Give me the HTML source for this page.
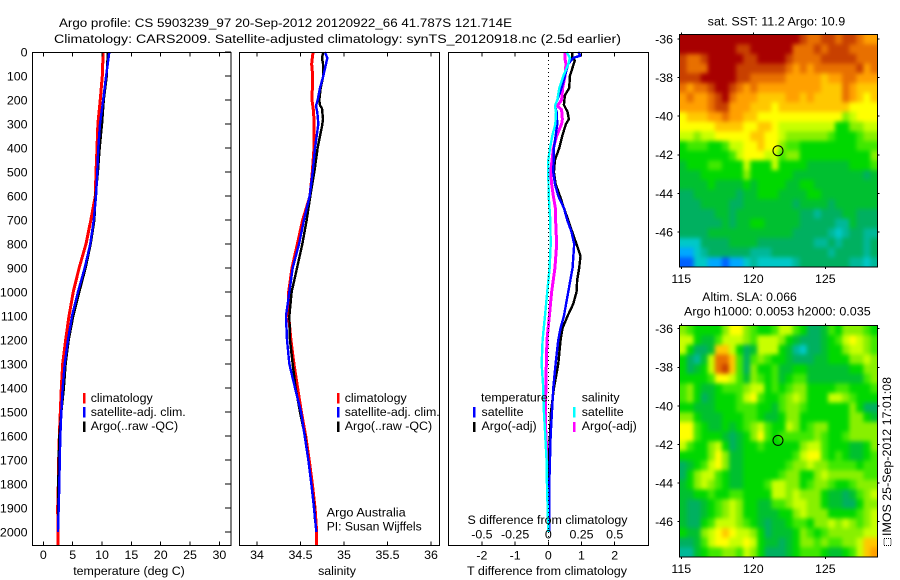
<!DOCTYPE html>
<html>
<head>
<meta charset="utf-8">
<title>Argo profile chart</title>
<style>
html,body{margin:0;padding:0;background:#fff;}
svg{display:block;}
text{font-family:"Liberation Sans",sans-serif;font-size:12.4px;fill:#000;}
</style>
</head>
<body>
<svg id="chart" xmlns="http://www.w3.org/2000/svg" width="900" height="580" viewBox="0 0 900 580">
  <defs>
    <filter id="cell-soften" x="0" y="0" width="100%" height="100%" color-interpolation-filters="sRGB">
      <feGaussianBlur stdDeviation="2.2"/>
      <feComponentTransfer><feFuncA type="discrete" tableValues="1"/></feComponentTransfer>
    </filter>
  </defs>
  <rect x="0" y="0" width="900" height="580" fill="#fff"/>
  <text x="59" y="27" textLength="453" lengthAdjust="spacingAndGlyphs">Argo profile: CS 5903239_97 20-Sep-2012 20120922_66 41.787S 121.714E</text>
  <text x="54" y="43" textLength="567" lengthAdjust="spacingAndGlyphs">Climatology: CARS2009. Satellite-adjusted climatology: synTS_20120918.nc (2.5d earlier)</text>

  <g id="series-layer"></g>
  <g id="map-layer"></g>
  <g id="axis-layer"></g>

  <text x="129" y="575" text-anchor="middle">temperature (deg C)</text>
  <text x="337" y="575" text-anchor="middle">salinity</text>
  <text x="467" y="575" textLength="160" lengthAdjust="spacingAndGlyphs">T difference from climatology</text>
  <text x="467.5" y="524" textLength="160" lengthAdjust="spacingAndGlyphs">S difference from climatology</text>

  <g>
    <rect x="83" y="393" width="2.5" height="10.5" fill="#f00"/>
    <text x="90.7" y="402">climatology</text>
    <rect x="83" y="407" width="2.5" height="10.5" fill="#00f"/>
    <text x="90.7" y="416">satellite-adj. clim.</text>
    <rect x="83" y="421.5" width="2.5" height="10.5" fill="#000"/>
    <text x="90.7" y="430">Argo(..raw -QC)</text>
  </g>
  <g>
    <rect x="337" y="393" width="2.5" height="10.5" fill="#f00"/>
    <text x="344.7" y="402">climatology</text>
    <rect x="337" y="407" width="2.5" height="10.5" fill="#00f"/>
    <text x="344.7" y="416">satellite-adj. clim.</text>
    <rect x="337" y="421.5" width="2.5" height="10.5" fill="#000"/>
    <text x="344.7" y="430">Argo(..raw -QC)</text>
  </g>
  <text x="326.7" y="516.5" textLength="79" lengthAdjust="spacingAndGlyphs">Argo Australia</text>
  <text x="326.7" y="530.5" textLength="95" lengthAdjust="spacingAndGlyphs">PI: Susan Wijffels</text>

  <g>
    <text x="481" y="401.7">temperature</text>
    <rect x="473" y="407" width="2.5" height="10.5" fill="#00f"/>
    <text x="481.5" y="416">satellite</text>
    <rect x="473" y="422" width="2.5" height="10" fill="#000"/>
    <text x="481.5" y="430">Argo(-adj)</text>
    <text x="581.7" y="401.7">salinity</text>
    <rect x="573" y="407" width="2.5" height="10.5" fill="#0ff"/>
    <text x="581.7" y="416">satellite</text>
    <rect x="573" y="422" width="2.5" height="10" fill="#f0f"/>
    <text x="581.7" y="430">Argo(-adj)</text>
  </g>

  <text x="707.7" y="25.7" textLength="137.5" lengthAdjust="spacingAndGlyphs">sat. SST: 11.2 Argo: 10.9</text>
  <text x="702.3" y="301" textLength="94.5" lengthAdjust="spacingAndGlyphs">Altim. SLA: 0.066</text>
  <text x="684" y="315.7" textLength="186.7" lengthAdjust="spacingAndGlyphs">Argo h1000: 0.0053 h2000: 0.035</text>

  <rect x="884" y="538.5" width="7" height="7" fill="none" stroke="#000" stroke-width="1" stroke-dasharray="1 1"/>
  <text transform="translate(891 536) rotate(-90)" textLength="159" lengthAdjust="spacingAndGlyphs">IMOS 25-Sep-2012 17:01:08</text>
</svg>

<script>
// ---- profile data ----
var depthGrid = [0,100,200,300,400,500,600,700,800,900,1000,1100,1200,1300,1400,1500,1600,1700,1800,1900,2000,2057];
var climTemp = [10.2,10.05,9.7,9.3,9.15,8.98,8.86,8.1,7.27,6.1,5.1,4.38,3.8,3.3,3.07,2.9,2.73,2.62,2.56,2.45,2.5,2.5];
var satTemp = [11.25,10.7,10.2,9.66,9.37,9.2,8.98,8.6,8.0,7.05,5.9,4.9,4.2,3.65,3.3,3.07,2.9,2.8,2.73,2.62,2.5];
var argoTemp = [11,10.8,10.3,10,9.6,9.3,8.9,8.7,8.07,7.2,6.13,5.1,4.32,3.8,3.5,3.07,2.73,2.62,2.56,2.5,2.5];

var climSalDepth = [0,50,100,200,250,300,400,500,600,700,800,900,1000,1100,1200,1300,1400,1500,1600,1700,1800,1900,2000,2057];
var climSal = [34.644,34.628,34.64,34.632,34.651,34.655,34.655,34.636,34.609,34.525,34.464,34.402,34.364,34.364,34.39,34.425,34.467,34.51,34.56,34.6,34.636,34.667,34.686,34.686];
var satSalDepth = [0,25,50,100,150,200,225,250,300,350,400,500,600,700,800,900,1000,1100,1200,1300,1400,1500,1600,1700,1800,1900,2000];
var satSal = [34.78,34.808,34.793,34.762,34.724,34.697,34.678,34.693,34.705,34.686,34.667,34.64,34.605,34.54,34.483,34.41,34.372,34.333,34.345,34.372,34.437,34.506,34.548,34.59,34.625,34.655,34.682];
var argoSalDepth = [0,25,50,100,150,200,222,235,280,310,350,400,500,600,700,800,900,1000,1100,1200,1300,1400,1500,1600,1700,1800,1900,1950];
var argoSal = [34.762,34.747,34.759,34.762,34.732,34.716,34.724,34.747,34.759,34.747,34.724,34.697,34.659,34.613,34.571,34.521,34.46,34.398,34.372,34.379,34.41,34.444,34.494,34.552,34.59,34.625,34.659,34.667];

var diffTSatDepth = [0,15,25,50,100,150,200,225,250,300,350,400,500,550,600,650,700,750,800,900,1000,1100,1150,1200,1300,1400,1500,1600,1700,1800,1900,2000];
var diffTSat = [0.90,0.97,0.75,0.60,0.50,0.40,0.27,0.20,0.25,0.27,0.22,0.17,0.15,0.20,0.30,0.47,0.57,0.70,0.78,0.73,0.60,0.47,0.37,0.30,0.22,0.15,0.11,0.07,0.05,0.03,0.03,0.03];
var diffTArgoDepth = [0,25,35,100,150,180,220,250,280,300,350,400,450,500,550,600,650,700,770,800,850,900,950,1000,1050,1100,1150,1200,1300,1400,1500,1600,1700,1800];
var diffTArgo = [0.72,0.72,0.80,0.65,0.63,0.50,0.47,0.58,0.62,0.53,0.42,0.33,0.20,0.17,0.22,0.35,0.47,0.60,0.77,0.85,0.97,0.93,0.87,0.85,0.75,0.58,0.43,0.37,0.30,0.17,0.08,0.05,0.02,0.01];
var diffSSatDepth = [0,25,50,100,150,200,225,250,300,350,400,450,500,600,700,800,900,1000,1100,1200,1300,1400,1500,1600,1700,1800,1900,2000];
var diffSSat = [0.138,0.163,0.151,0.113,0.083,0.068,0.05,0.058,0.053,0.03,0.013,0,0,0.003,0.015,0.018,0.01,-0.008,-0.025,-0.043,-0.05,-0.038,-0.033,-0.023,-0.013,-0.01,-0.005,0];
var diffSArgoDepth = [0,30,50,100,150,200,225,240,280,300,350,400,500,550,600,650,700,800,900,1000,1100,1200,1300,1400,1500,1600,1700,1800];
var diffSArgo = [0.126,0.126,0.133,0.126,0.108,0.1,0.068,0.1,0.106,0.1,0.063,0.038,0.018,0.025,0.038,0.053,0.055,0.063,0.05,0.025,0.008,-0.01,-0.015,-0.018,-0.023,-0.018,-0.005,0];

// ---- tick labels ----
var depthTicks = [0,100,200,300,400,500,600,700,800,900,1000,1100,1200,1300,1400,1500,1600,1700,1800,1900,2000];
var tempTicks = [0,5,10,15,20,25,30];
var salTicks = [34,34.5,35,35.5,36];
var diffTTicks = [-2,-1,0,1,2];
var diffSTicks = [-0.5,-0.25,0,0.25,0.5];
var lonTicks = [115,120,125];
var latTicks = [-36,-38,-40,-42,-44,-46];
var profileLon = [121.714];
var profileLat = [-41.787];

// ---- map data: colour class per half-degree cell, north to south ----
var sstGrid = [
[16,16,16,16,16,16,16,16,16,16,16,16,16,16,16,16,16,15,14,14,15,15,14,15,15,14,13,13],
[16,16,16,16,16,16,16,16,15,15,16,16,16,16,16,16,14,14,14,15,14,15,15,15,14,14,14,14],
[15,14,14,15,16,16,16,16,16,15,15,16,16,16,16,15,14,14,14,14,15,15,15,15,15,14,14,14],
[15,14,14,14,16,16,16,16,15,15,15,15,15,15,15,14,13,14,13,14,14,14,14,14,14,15,13,14],
[15,15,15,16,16,16,16,16,15,15,14,14,14,14,14,13,13,13,13,13,12,13,13,14,14,13,13,13],
[14,13,14,14,15,16,16,15,14,13,14,13,13,13,13,13,13,13,13,13,12,12,12,14,13,12,12,12],
[13,14,13,13,14,15,16,14,13,13,13,12,12,12,12,13,13,12,13,12,12,12,12,14,13,12,11,12],
[13,13,13,13,14,15,15,13,13,13,12,12,12,11,12,12,12,12,12,12,12,12,12,12,11,11,11,11],
[11,12,12,12,13,13,14,13,13,12,12,11,11,11,11,11,11,11,11,11,11,11,11,9,10,11,11,11],
[11,11,11,11,11,12,12,12,12,11,11,12,12,11,10,10,10,10,10,10,10,10,7,7,9,9,10,10],
[10,10,9,10,10,11,11,11,11,11,12,12,11,11,10,9,9,9,9,9,9,8,7,7,7,8,9,9],
[7,8,8,8,7,7,8,10,10,11,11,12,11,11,9,8,8,7,7,7,7,7,7,7,7,8,8,8],
[7,7,7,7,7,7,7,8,10,11,11,11,10,10,8,9,9,7,7,7,7,7,7,7,7,7,7,9],
[6,7,7,7,8,8,7,7,7,10,7,7,7,10,7,7,7,7,6,6,6,6,6,6,7,7,7,8],
[6,6,6,7,7,7,7,7,7,9,7,7,7,7,7,7,6,6,6,6,6,6,6,6,6,6,5,6],
[6,6,6,6,7,6,6,6,6,7,6,7,7,7,7,6,6,7,7,6,6,6,6,6,6,6,6,6],
[5,5,6,6,6,6,6,6,5,6,6,7,7,7,6,6,6,6,7,7,6,6,6,6,6,6,6,6],
[5,5,5,6,6,6,6,5,5,6,6,6,6,6,6,6,5,6,6,6,6,5,6,6,6,6,6,6],
[5,5,5,5,5,6,6,5,6,6,6,6,6,6,6,6,6,5,5,4,5,5,5,6,6,5,5,5],
[5,5,5,5,5,5,6,5,6,6,7,7,6,6,6,6,6,5,5,5,5,5,4,4,6,5,5,5],
[5,5,5,5,6,6,6,6,6,6,6,6,6,6,6,6,5,5,5,5,5,4,3,4,5,5,4,4],
[3,3,3,5,5,5,5,6,6,6,6,5,5,5,5,5,5,5,5,4,4,5,4,5,5,5,4,5],
[2,2,3,4,5,5,5,5,5,5,4,4,4,5,5,5,5,5,5,5,5,4,5,5,5,5,4,5],
[1,1,3,3,2,2,1,2,2,3,4,3,3,3,3,3,4,5,5,5,5,5,5,5,4,4,3,4]
];
var slaGrid = [
[9,8,7,7,7,7,9,11,11,9,8,7,7,8,10,10,8,7,5,5,6,8,7,9,9,9,8,7],
[10,10,7,6,6,8,10,10,10,9,8,10,10,10,9,7,6,5,5,5,6,7,8,10,11,10,9,8],
[10,7,5,5,6,12,12,10,7,5,6,10,10,10,7,6,4,3,5,5,6,7,7,9,10,10,9,8],
[7,5,4,6,10,14,14,12,8,5,8,9,8,7,7,6,5,5,5,6,6,7,7,7,9,9,10,9],
[7,5,6,7,10,14,15,12,8,5,9,7,7,8,6,6,7,7,6,6,6,6,6,6,7,7,9,9],
[7,7,7,7,8,11,11,10,8,6,9,8,7,8,6,7,8,8,6,6,6,6,6,6,6,6,8,9],
[8,9,7,6,6,7,8,8,8,9,10,10,7,8,7,8,9,9,7,7,7,7,8,8,7,7,7,8],
[8,9,7,5,6,7,7,7,8,10,11,8,7,7,8,9,10,9,7,7,7,10,10,9,8,7,7,7],
[7,7,6,6,6,7,7,7,8,8,8,7,7,6,8,9,9,8,7,7,7,7,7,7,9,7,5,5],
[9,9,7,6,6,6,7,7,7,8,8,7,6,6,7,9,9,7,7,7,7,7,7,7,9,9,7,6],
[11,11,8,7,6,6,7,6,7,8,9,10,8,7,7,10,9,7,8,9,9,7,7,7,9,9,9,9],
[11,11,8,7,7,7,6,5,6,7,9,11,8,7,8,8,8,8,8,9,8,7,7,8,9,9,9,9],
[10,8,7,7,9,10,7,5,6,7,7,8,7,7,7,7,7,9,10,10,8,7,7,7,6,6,7,9],
[7,7,7,7,9,11,9,6,6,7,7,7,7,7,7,7,8,10,11,11,8,7,8,7,6,6,7,8],
[5,6,7,8,10,11,9,6,6,7,7,7,7,7,7,8,9,9,10,9,9,8,8,8,8,7,8,8],
[5,7,9,10,10,8,7,6,6,7,7,7,7,7,8,9,9,7,7,9,10,9,9,9,9,9,8,8],
[6,7,9,10,9,8,7,6,6,7,7,7,8,10,10,9,9,7,8,9,9,8,7,7,8,9,9,9],
[6,6,7,7,8,7,7,8,8,7,7,7,7,10,10,9,10,9,9,9,7,6,6,5,6,8,9,10],
[6,5,5,6,7,8,9,10,9,7,7,6,6,8,8,9,10,10,9,9,7,6,6,5,5,7,9,9],
[6,5,5,6,7,8,9,10,9,7,7,6,6,6,7,7,9,10,9,9,9,7,7,7,7,8,9,10],
[6,5,5,7,8,10,10,10,9,8,7,6,5,6,6,7,8,8,7,9,9,10,9,10,9,8,9,10],
[7,6,6,9,10,11,12,11,10,10,9,7,5,6,6,6,7,9,8,7,8,9,9,9,9,9,10,10],
[5,5,6,8,10,11,11,10,10,11,10,7,6,6,5,6,7,9,9,8,9,8,8,9,9,10,12,12],
[4,4,6,7,8,8,9,9,8,10,9,7,5,5,5,6,7,8,8,8,7,6,6,7,8,10,12,13]
];
var mapColours = ["#0020d0","#0060ff","#00a8ff","#00c8c8","#00b898","#00b060","#00c030","#00d800","#40e800","#88f000","#c8ff00","#ffff00","#ffc800","#ffa000","#e87000","#c84000","#a80000"];

// ---- axis functions ----
function yDepth(d){ return 52 + 0.24*d; }
function xTemp(t){ return 43.3 + 5.87*t; }
function xSal(s){ return 257 + 87*(s-34); }
function xDiffT(t){ return 548.3 + 33.2*t; }
function xDiffS(s){ return 548.3 + 132.8*s; }
function xLon(lon){ return 681.3 + 14.4*(lon-115); }
function ySstLat(lat){ return 39 + 19.3*(-36-lat); }
function ySlaLat(lat){ return 328.7 + 19.3*(-36-lat); }

var NS = "http://www.w3.org/2000/svg";
var seriesLayer = document.getElementById("series-layer");
var mapLayer = document.getElementById("map-layer");
var axisLayer = document.getElementById("axis-layer");

function lineEl(x1,y1,x2,y2){
  var l = document.createElementNS(NS,"line");
  l.setAttribute("x1",x1); l.setAttribute("y1",y1);
  l.setAttribute("x2",x2); l.setAttribute("y2",y2);
  l.setAttribute("stroke","#000");
  l.setAttribute("stroke-width","1");
  l.setAttribute("shape-rendering","crispEdges");
  return l;
}
function textEl(x,y,str,anchor){
  var t = document.createElementNS(NS,"text");
  t.setAttribute("x",x); t.setAttribute("y",y);
  if(anchor) t.setAttribute("text-anchor",anchor);
  t.textContent = str;
  return t;
}
function drawSeries(depths, values, xf, colour, width, name){
  var pts = [];
  for(var i=0;i<values.length;i++){
    pts.push(xf(values[i]).toFixed(2)+","+yDepth(depths[i]).toFixed(2));
  }
  var p = document.createElementNS(NS,"polyline");
  p.setAttribute("points",pts.join(" "));
  p.setAttribute("fill","none");
  p.setAttribute("stroke",colour);
  p.setAttribute("stroke-width",width);
  p.setAttribute("shape-rendering","crispEdges");
  p.setAttribute("stroke-linejoin","bevel");
  
  
  seriesLayer.appendChild(p);
}
function drawFrame(x,y,w,h,name){
  var r = document.createElementNS(NS,"rect");
  r.setAttribute("x",x); r.setAttribute("y",y);
  r.setAttribute("width",w); r.setAttribute("height",h);
  r.setAttribute("fill","none");
  r.setAttribute("stroke","#000");
  r.setAttribute("stroke-width","1");
  r.setAttribute("shape-rendering","crispEdges");
  
  
  axisLayer.appendChild(r);
}
function drawXTicks(ticks, xf, top, bottom, len, name){
  ticks.forEach(function(v){
    var a = lineEl(xf(v),top,xf(v),top+len);
    
    
    axisLayer.appendChild(a);
    var b = lineEl(xf(v),bottom,xf(v),bottom-len);
    
    
    axisLayer.appendChild(b);
  });
}
function drawXLabels(ticks, xf, y, name){
  ticks.forEach(function(v){
    var t = textEl(xf(v),y,String(v),"middle");
    
    
    axisLayer.appendChild(t);
  });
}

// temperature panel
drawSeries(depthGrid, climTemp, xTemp, "#f00", 3, "temperature-climatology-line");
drawSeries(depthGrid.slice(0,argoTemp.length), argoTemp, xTemp, "#000", 2.4, "temperature-argo-line");
drawSeries(depthGrid.slice(0,satTemp.length), satTemp, xTemp, "#00f", 2.4, "temperature-satellite-line");
// salinity panel
drawSeries(climSalDepth, climSal, xSal, "#f00", 3, "salinity-climatology-line");
drawSeries(argoSalDepth, argoSal, xSal, "#000", 2.4, "salinity-argo-line");
drawSeries(satSalDepth, satSal, xSal, "#00f", 2.4, "salinity-satellite-line");
// difference panel
drawSeries(diffSArgoDepth, diffSArgo, xDiffS, "#f0f", 3, "s-difference-argo-line");
drawSeries(diffTArgoDepth, diffTArgo, xDiffT, "#000", 2.4, "t-difference-argo-line");
drawSeries(diffTSatDepth, diffTSat, xDiffT, "#00f", 2.4, "t-difference-satellite-line");
drawSeries(diffSSatDepth, diffSSat, xDiffS, "#0ff", 2.4, "s-difference-satellite-line");

var zeroLine = lineEl(xDiffT(0),52,xDiffT(0),545);
zeroLine.setAttribute("stroke-dasharray","1 3");


axisLayer.appendChild(zeroLine);

drawFrame(32.5,52.5,198.5,493,"temperature-panel-frame");
drawFrame(239.5,52.5,200,493,"salinity-panel-frame");
drawFrame(448.5,52.5,200,493,"difference-panel-frame");

depthTicks.forEach(function(d){
  var tick = lineEl(231,yDepth(d),225,yDepth(d));
  
  
  axisLayer.appendChild(tick);
  var label = textEl(27.5,yDepth(d)+4.4,String(d),"end");
  
  
  axisLayer.appendChild(label);
});
drawXTicks(tempTicks,xTemp,52.5,545.5,4,"temperature");
drawXLabels(tempTicks,xTemp,559,"temperature");
drawXTicks(salTicks,xSal,52.5,545.5,4,"salinity");
drawXLabels(salTicks,xSal,559,"salinity");
drawXTicks(diffTTicks,xDiffT,52.5,545.5,4,"t-difference");
drawXLabels(diffTTicks,xDiffT,559.3,"t-difference");
drawXLabels(diffSTicks,xDiffS,538.7,"s-difference");

// maps
function drawMap(grid, top, height, yLat, prefix, bottomLabelY){
  var left = 679.5, width = 198;
  var rows = grid.length, cols = grid[0].length;
  var cw = width/cols, ch = height/rows;
  var cellGroup = document.createElementNS(NS,"g");
  cellGroup.setAttribute("filter","url(#cell-soften)");
  
  
  mapLayer.appendChild(cellGroup);
  for(var r=0;r<rows;r++){
    for(var c=0;c<cols;c++){
      var cell = document.createElementNS(NS,"rect");
      cell.setAttribute("x",(left+c*cw).toFixed(2));
      cell.setAttribute("y",(top+r*ch).toFixed(2));
      cell.setAttribute("width",(c===cols-1?cw:cw+0.5).toFixed(2));
      cell.setAttribute("height",(r===rows-1?ch:ch+0.5).toFixed(2));
      cell.setAttribute("fill",mapColours[grid[r][c]]);
      
      
      cellGroup.appendChild(cell);
    }
  }
  var frame = document.createElementNS(NS,"rect");
  frame.setAttribute("x",left);
  frame.setAttribute("y",top);
  frame.setAttribute("width",width);
  frame.setAttribute("height",height);
  frame.setAttribute("fill","none");
  frame.setAttribute("stroke","#000");
  frame.setAttribute("shape-rendering","crispEdges");
  
  
  mapLayer.appendChild(frame);

  lonTicks.forEach(function(lon){
    var a = lineEl(xLon(lon),top,xLon(lon),top-2);
    
    
    mapLayer.appendChild(a);
    var b = lineEl(xLon(lon),top+height,xLon(lon),top+height+2);
    
    
    mapLayer.appendChild(b);
    var t = textEl(xLon(lon),bottomLabelY,String(lon),"middle");
    
    
    mapLayer.appendChild(t);
  });
  latTicks.forEach(function(lat){
    var a = lineEl(left,yLat(lat),left-2,yLat(lat));
    
    
    mapLayer.appendChild(a);
    var b = lineEl(left+width,yLat(lat),left+width+2,yLat(lat));
    
    
    mapLayer.appendChild(b);
    var t = textEl(673,yLat(lat)+4.4,String(lat),"end");
    
    
    mapLayer.appendChild(t);
  });
  var marker = document.createElementNS(NS,"circle");
  marker.setAttribute("cx",xLon(profileLon[0]));
  marker.setAttribute("cy",yLat(profileLat[0]));
  marker.setAttribute("r","5");
  marker.setAttribute("fill","none");
  marker.setAttribute("stroke","#000");
  marker.setAttribute("stroke-width","1");
  
  
  mapLayer.appendChild(marker);
}
drawMap(sstGrid,34.5,232.5,ySstLat,"sst-map",283);
drawMap(slaGrid,325.5,231.5,ySlaLat,"sla-map",573);
</script>
</body>
</html>
